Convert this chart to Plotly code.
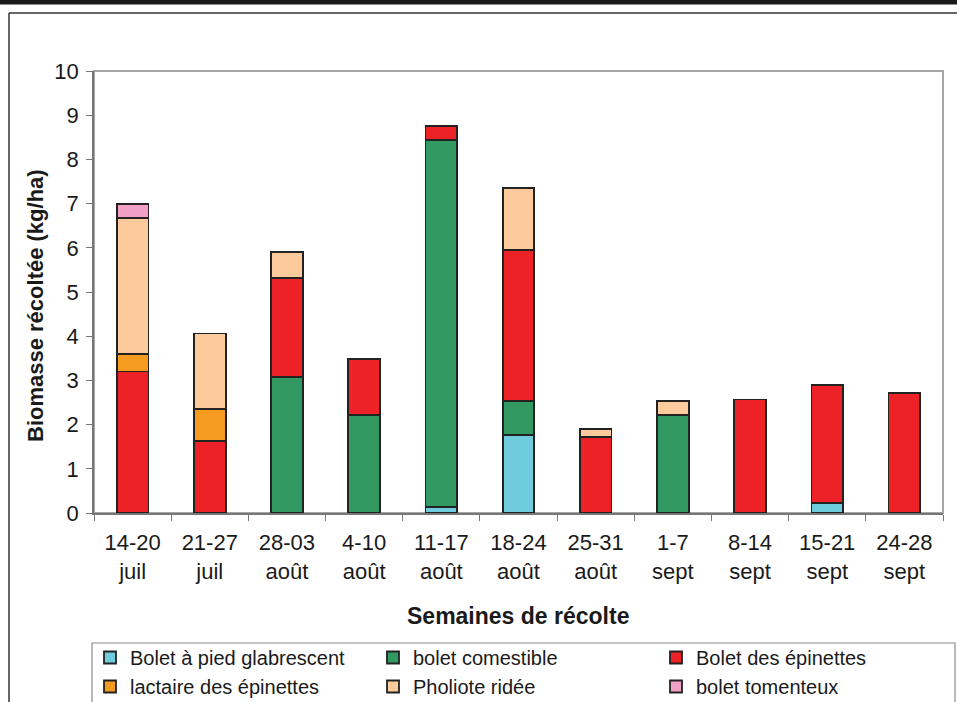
import plotly.graph_objects as go

# Weekly harvest, kg/ha per species
weeks = ["14-20<br>juil", "21-27<br>juil", "28-03<br>août", "4-10<br>août",
         "11-17<br>août", "18-24<br>août", "25-31<br>août", "1-7<br>sept",
         "8-14<br>sept", "15-21<br>sept", "24-28<br>sept"]

bolet_pied_glabrescent = [0, 0, 0, 0, 0.14, 1.76, 0, 0, 0, 0.23, 0]
bolet_comestible = [0, 0, 3.08, 2.21, 8.30, 0.77, 0, 2.21, 0, 0, 0]
bolet_epinettes = [3.20, 1.63, 2.24, 1.27, 0.31, 3.42, 1.72, 0, 2.57, 2.66, 2.71]
lactaire_epinettes = [0.40, 0.72, 0, 0, 0, 0, 0, 0, 0, 0, 0]
pholiote_ridee = [3.07, 1.71, 0.59, 0, 0, 1.41, 0.18, 0.32, 0, 0, 0]
bolet_tomenteux = [0.32, 0, 0, 0, 0, 0, 0, 0, 0, 0, 0]

series = [
    ("Bolet à pied glabrescent", bolet_pied_glabrescent, "#6ECCDD"),
    ("bolet comestible", bolet_comestible, "#339963"),
    ("Bolet des épinettes", bolet_epinettes, "#EC2227"),
    ("lactaire des épinettes", lactaire_epinettes, "#F59B20"),
    ("Pholiote ridée", pholiote_ridee, "#FDCB9B"),
    ("bolet tomenteux", bolet_tomenteux, "#F19FC6"),
]

FONT = "Liberation Sans, Arial, sans-serif"
TXT = "#1a1a1a"

fig = go.Figure()
for name, vals, col in series:
    fig.add_trace(go.Bar(
        x=weeks, y=vals, name=name,
        marker=dict(color=col, line=dict(color="#222222", width=1.8)),
        width=0.41,
    ))

W, H = 957, 702
L, R, T, B = 94, 14, 71, 189
pw, ph = W - L - R, H - T - B

def px_x(p):
    return (p - L) / pw

def px_y(p):
    return (H - B - p) / ph

shapes = [
    # light border on top/right of the plotting area
    dict(type="rect", xref="paper", yref="paper", x0=0, x1=1, y0=0, y1=1,
         line=dict(color="#a6a6a6", width=2), layer="below"),
    # page frame
    dict(type="line", xref="paper", yref="paper", x0=px_x(9), x1=px_x(980),
         y0=px_y(13), y1=px_y(13), line=dict(color="#333333", width=1.5)),
    dict(type="line", xref="paper", yref="paper", x0=px_x(9), x1=px_x(9),
         y0=px_y(13), y1=px_y(720), line=dict(color="#333333", width=1.5)),
    # heavy rule at the very top
    dict(type="line", xref="paper", yref="paper", x0=px_x(-20), x1=px_x(980),
         y0=px_y(2), y1=px_y(2), line=dict(color="#1a1a1a", width=5)),
    # legend box, running off the bottom of the page
    dict(type="rect", xref="paper", yref="paper", x0=px_x(92), x1=px_x(955),
         y0=px_y(643), y1=px_y(730), line=dict(color="#8c8c8c", width=1.2),
         fillcolor="white", layer="below"),
]

annotations = [
    dict(text="<b>Biomasse récoltée (kg/ha)</b>", xref="paper", yref="paper",
         x=px_x(35), y=px_y(306), xanchor="center", yanchor="middle",
         textangle=-90, showarrow=False,
         font=dict(family=FONT, size=22, color=TXT)),
    dict(text="<b>Semaines de récolte</b>", xref="paper", yref="paper",
         x=px_x(518), y=px_y(616), xanchor="center", yanchor="middle",
         showarrow=False,
         font=dict(family=FONT, size=23, color=TXT)),
]

fig.update_layout(
    width=W, height=H,
    margin=dict(l=L, r=R, t=T, b=B, autoexpand=False),
    paper_bgcolor="white", plot_bgcolor="white",
    barmode="stack",
    font=dict(family=FONT, size=22, color=TXT),
    shapes=shapes,
    annotations=annotations,
    legend=dict(
        orientation="h", x=px_x(90), y=px_y(638), xanchor="left", yanchor="top",
        entrywidth=238, entrywidthmode="pixels",
        borderwidth=0, bgcolor="rgba(0,0,0,0)",
        font=dict(family=FONT, size=20, color=TXT),
        traceorder="normal", itemwidth=30,
    ),
    xaxis=dict(
        type="category", showgrid=False, showline=True, linecolor="#777777",
        linewidth=1.5, ticks="outside", tickson="boundaries", ticklen=6,
        tickcolor="#777777", tickfont=dict(family=FONT, size=22, color=TXT),
        ticklabelstandoff=9, fixedrange=True,
    ),
    yaxis=dict(
        range=[0, 10], dtick=1, showgrid=False, showline=True,
        linecolor="#777777", linewidth=1.5, ticks="outside", ticklen=6,
        tickcolor="#777777", tickfont=dict(family=FONT, size=22, color=TXT),
        ticklabelstandoff=3, zeroline=False, fixedrange=True,
    ),
)

fig.write_html("out.html")
